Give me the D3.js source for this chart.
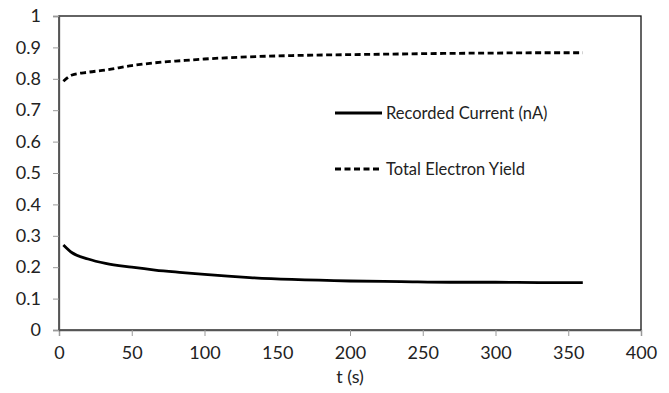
<!DOCTYPE html>
<html>
<head>
<meta charset="utf-8">
<script src="https://cdn.jsdelivr.net/npm/d3@7"></script>
<style>
  body { margin: 0; background: #fff; }
  text { font-family: Lato, "Open Sans", sans-serif; fill: #222; }
</style>
</head>
<body>
<svg id="grafico" width="669" height="393"></svg>
<script>
// valores
const tempos = [3, 9, 20, 32, 50, 66, 85, 100, 131, 160, 200, 235, 269, 300, 330, 360];
const corrente = [0.271, 0.246, 0.226, 0.212, 0.2, 0.191, 0.183, 0.177, 0.167, 0.161, 0.156, 0.154, 0.152, 0.152, 0.151, 0.151];
const rendimento = [0.792, 0.812, 0.821, 0.828, 0.842, 0.851, 0.858, 0.863, 0.870, 0.874, 0.877, 0.879, 0.881, 0.882, 0.883, 0.883];
const ticks_x = [0, 50, 100, 150, 200, 250, 300, 350, 400];
const ticks_y = [0, 0.1, 0.2, 0.3, 0.4, 0.5, 0.6, 0.7, 0.8, 0.9, 1];
const series = [
  { nome: "Recorded Current (nA)", valores: corrente, tracejado: null },
  { nome: "Total Electron Yield", valores: rendimento, tracejado: "6,3.5" }
];

const svg = d3.select("#grafico");
const esq = 59, dir = 641, topo = 16, base = 330;

const x = d3.scaleLinear().domain([0, 400]).range([esq, dir]);
const y = d3.scaleLinear().domain([0, 1]).range([base, topo]);

// moldura da area do grafico
svg.append("rect")
  .attr("x", esq).attr("y", topo)
  .attr("width", dir - esq).attr("height", base - topo)
  .attr("fill", "none").attr("stroke", "#111").attr("stroke-width", 1.3);

const eixo_x = svg.append("g")
  .attr("transform", `translate(0,${base})`)
  .call(d3.axisBottom(x).tickValues(ticks_x).tickSize(6).tickPadding(10).tickFormat(d3.format("d")));
const eixo_y = svg.append("g")
  .attr("transform", `translate(${esq},0)`)
  .call(d3.axisLeft(y).tickValues(ticks_y).tickSize(6).tickPadding(12).tickFormat(d => d === 0 || d === 1 ? d : d3.format(".1f")(d)));

[eixo_x, eixo_y].forEach(g => {
  g.select(".domain").attr("stroke", "#555").attr("stroke-width", 1.3);
  g.selectAll(".tick line").attr("stroke", "#999");
  g.selectAll(".tick text").style("font-size", "18px").attr("fill", "#222");
});

svg.append("text")
  .attr("x", (esq + dir) / 2).attr("y", 383)
  .attr("text-anchor", "middle")
  .style("font-size", "18px")
  .text("t (s)");

const linha = d3.line()
  .x((d, i) => x(tempos[i]))
  .y(d => y(d))
  .curve(d3.curveMonotoneX);

series.forEach(s => {
  svg.append("path")
    .datum(s.valores)
    .attr("d", linha)
    .attr("fill", "none")
    .attr("stroke", "#000")
    .attr("stroke-width", 2.8)
    .attr("stroke-dasharray", s.tracejado);
});

// legenda
const legenda = svg.append("g");
series.forEach((s, i) => {
  const ly = 113 + i * 56;
  legenda.append("line")
    .attr("x1", 335).attr("x2", 382)
    .attr("y1", ly).attr("y2", ly)
    .attr("stroke", "#000").attr("stroke-width", 2.8)
    .attr("stroke-dasharray", s.tracejado);
  legenda.append("text")
    .attr("x", 386).attr("y", ly + 6)
    .style("font-size", "16.5px")
    .text(s.nome);
});
</script>
</body>
</html>
